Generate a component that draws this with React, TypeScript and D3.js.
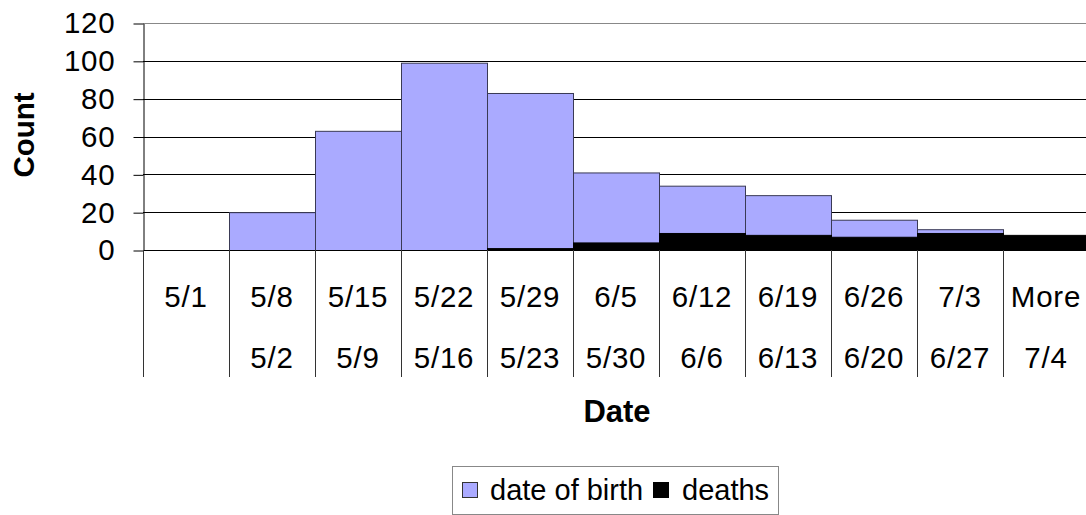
import { useRef, useEffect } from 'react';
import * as d3 from 'd3';

const topLabels = ['5/1', '5/8', '5/15', '5/22', '5/29', '6/5', '6/12', '6/19', '6/26', '7/3', 'More'];
const bottomLabels = ['', '5/2', '5/9', '5/16', '5/23', '5/30', '6/6', '6/13', '6/20', '6/27', '7/4'];
const births = [0, 20, 63, 99, 83, 41, 34, 29, 16, 11, 0];
const deaths = [0, 0, 0, 0, 1, 4, 9, 8, 7, 9, 8];
const yTicks = [0, 20, 40, 60, 80, 100, 120];

const W = 1086;
const H = 515;

const App = () => {
  const ref = useRef<SVGSVGElement>(null);

  useEffect(() => {
    const svg = d3.select(ref.current);
    svg.selectAll('*').remove();

    const left = 143;
    const right = 1089;
    const top = 23;
    const bottom = 250;

    const x = d3.scaleBand<number>()
      .domain(d3.range(topLabels.length))
      .range([left, right])
      .padding(0);

    const y = d3.scaleLinear().domain([0, 120]).range([bottom, top]);

    const font = 'Liberation Sans, Arial, sans-serif';

    // gridlines
    svg.append('g')
      .selectAll('line')
      .data(yTicks.filter(d => d > 0))
      .enter().append('line')
      .attr('x1', left)
      .attr('x2', right)
      .attr('y1', d => Math.round(y(d)) + 0.5)
      .attr('y2', d => Math.round(y(d)) + 0.5)
      .attr('stroke', d => (d === 120 ? '#888' : '#000'))
      .attr('stroke-width', 1);

    // birth bars
    svg.append('g')
      .selectAll('rect')
      .data(births)
      .enter().append('rect')
      .attr('x', (d, i) => x(i)! + 0.5)
      .attr('y', d => y(d) + 0.5)
      .attr('width', x.bandwidth())
      .attr('height', d => bottom - y(d))
      .attr('fill', d => (d > 0 ? '#AAAAFF' : 'none'))
      .attr('stroke', d => (d > 0 ? '#3a3a55' : 'none'))
      .attr('stroke-width', 1);

    // death bars
    svg.append('g')
      .selectAll('rect')
      .data(deaths)
      .enter().append('rect')
      .attr('x', (d, i) => x(i)! + 0.5)
      .attr('y', d => y(d) + 0.5)
      .attr('width', x.bandwidth())
      .attr('height', d => bottom - y(d))
      .attr('fill', d => (d > 0 ? '#000' : 'none'))
      .attr('stroke', d => (d > 0 ? '#000' : 'none'))
      .attr('stroke-width', 1);

    // y axis
    const yAxis = svg.append('g')
      .attr('transform', `translate(${left + 0.5},0.5)`)
      .call(d3.axisLeft(y).tickValues(yTicks).tickSize(10).tickPadding(18).tickSizeOuter(0));
    yAxis.select('.domain').attr('stroke', '#000');
    yAxis.selectAll('.tick line').attr('stroke', '#000');
    yAxis.selectAll('.tick text')
      .attr('font-family', font)
      .attr('font-size', 29.5)
      .attr('letter-spacing', 0.8)
      .attr('fill', '#000');

    // x axis line
    svg.append('line')
      .attr('x1', left)
      .attr('x2', right)
      .attr('y1', bottom + 0.5)
      .attr('y2', bottom + 0.5)
      .attr('stroke', '#000');

    // category dividers
    svg.append('g')
      .selectAll('line')
      .data(d3.range(topLabels.length + 1))
      .enter().append('line')
      .attr('x1', i => Math.round(left + i * x.bandwidth()) + 0.5)
      .attr('x2', i => Math.round(left + i * x.bandwidth()) + 0.5)
      .attr('y1', bottom)
      .attr('y2', 377)
      .attr('stroke', '#333');

    // category labels
    svg.append('g')
      .selectAll('text')
      .data(topLabels)
      .enter().append('text')
      .attr('x', (d, i) => x(i)! + x.bandwidth() / 2)
      .attr('y', 307)
      .attr('text-anchor', 'middle')
      .attr('font-family', font)
      .attr('font-size', 29.5)
      .attr('letter-spacing', 0.8)
      .text(d => d);

    svg.append('g')
      .selectAll('text')
      .data(bottomLabels)
      .enter().append('text')
      .attr('x', (d, i) => x(i)! + x.bandwidth() / 2)
      .attr('y', 368)
      .attr('text-anchor', 'middle')
      .attr('font-family', font)
      .attr('font-size', 29.5)
      .attr('letter-spacing', 0.8)
      .text(d => d);

    // axis titles
    svg.append('text')
      .attr('x', 617)
      .attr('y', 422)
      .attr('text-anchor', 'middle')
      .attr('font-family', font)
      .attr('font-weight', 'bold')
      .attr('font-size', 31)
      .text('Date');

    svg.append('text')
      .attr('transform', `translate(34,135) rotate(-90)`)
      .attr('text-anchor', 'middle')
      .attr('font-family', font)
      .attr('font-weight', 'bold')
      .attr('font-size', 29.5)
      .text('Count');

    // legend
    const legend = svg.append('g');
    legend.append('rect')
      .attr('x', 452.5)
      .attr('y', 466.5)
      .attr('width', 326)
      .attr('height', 48)
      .attr('fill', '#fff')
      .attr('stroke', '#888');
    legend.append('rect')
      .attr('x', 462.5)
      .attr('y', 482.5)
      .attr('width', 15)
      .attr('height', 15)
      .attr('fill', '#AAAAFF')
      .attr('stroke', '#333');
    legend.append('text')
      .attr('x', 490)
      .attr('y', 500)
      .attr('font-family', font)
      .attr('font-size', 29)
      .text('date of birth');
    legend.append('rect')
      .attr('x', 653.5)
      .attr('y', 482.5)
      .attr('width', 15)
      .attr('height', 15)
      .attr('fill', '#000')
      .attr('stroke', '#000');
    legend.append('text')
      .attr('x', 682)
      .attr('y', 500)
      .attr('font-family', font)
      .attr('font-size', 29)
      .text('deaths');
  }, []);

  return (
    <svg ref={ref} width={W} height={H} style={{ position: 'absolute', left: 0, top: 0 }}></svg>
  );
};

export default App;
